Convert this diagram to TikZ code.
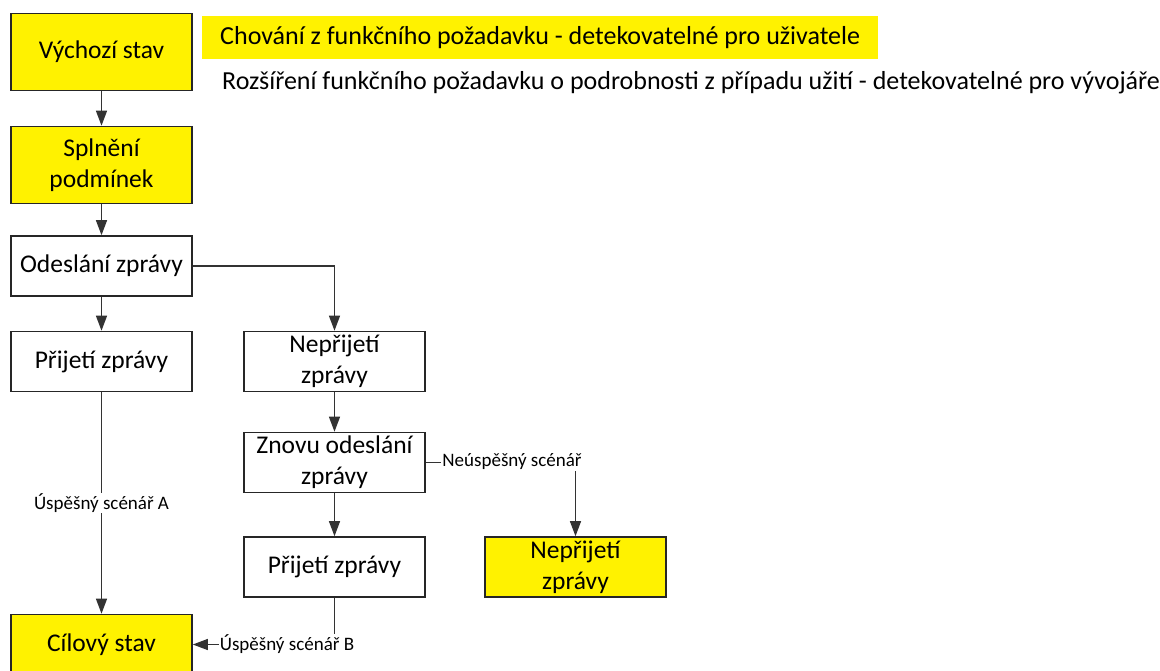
\documentclass[tikz,border=0pt]{standalone}
\usepackage{fontspec}
\setmainfont{Carlito}
\usetikzlibrary{arrows.meta}

\begin{document}
\begin{tikzpicture}[x=1pt, y=-1pt,
	box/.style={draw=black!85, line width=1.6pt, minimum width=181pt, minimum height=60pt, align=center, inner sep=0pt, font=\fontsize{25.5}{31}\selectfont},
	req/.style={box, fill=yellow},
	tall/.style={minimum height=77pt},
	link/.style={draw=black!80, line width=1.2pt, -{Triangle[length=15pt, width=11pt]}},
	lbl/.style={fill=white, inner sep=1pt, font=\fontsize{19}{22}\selectfont}]

	\useasboundingbox (0,0) rectangle (1160,670);

	% levy sloupec
	\node[req, tall] (start) at (101.5, 52) {Výchozí stav};
	\node[req, tall] (cond) at (101.5, 165) {Splnění\\podmínek};
	\node[box] (send) at (101.5, 266) {Odeslání zprávy};
	\node[box] (recv) at (101.5, 361.5) {Přijetí zprávy};
	\node[req] (goal) at (101.5, 644.5) {Cílový stav};

	% prostredni sloupec
	\node[box] (lost) at (334.5, 361.5) {Nepřijetí\\zprávy};
	\node[box] (resend) at (334.5, 462.5) {Znovu odeslání\\zprávy};
	\node[box] (recv2) at (334.5, 567) {Přijetí zprávy};

	% pravy sloupec
	\node[req] (lost2) at (575.5, 567) {Nepřijetí\\zprávy};

	% legenda
	\node[fill=yellow, anchor=north west, minimum height=43pt, minimum width=676pt, inner sep=0pt,
		font=\fontsize{26}{31}\selectfont] (legA) at (202, 16) {Chování z funkčního požadavku - detekovatelné pro uživatele};
	\node[anchor=west, inner sep=0pt, font=\fontsize{26}{31}\selectfont] (legB) at (222, 83)
		{Rozšíření funkčního požadavku o podrobnosti z případu užití - detekovatelné pro vývojáře};

	% spojnice
	\draw[link] (start) -- (cond);
	\draw[link] (cond) -- (send);
	\draw[link] (send) -- (recv);
	\draw[link] (send.east) -| (lost.north);
	\draw[link] (lost) -- (resend);
	\draw[link] (resend) -- (recv2);
	\draw[link] (recv) -- node[lbl] (okA) {Úspěšný scénář A} (goal);
	\draw[link] (resend.east) -| (lost2.north);
	\node[lbl] (fail) at (512, 462) {Neúspěšný scénář};
	\draw[link] (recv2.south) |- (goal.east);
	\node[lbl] (okB) at (287, 644) {Úspěšný scénář B};

\end{tikzpicture}
\end{document}
